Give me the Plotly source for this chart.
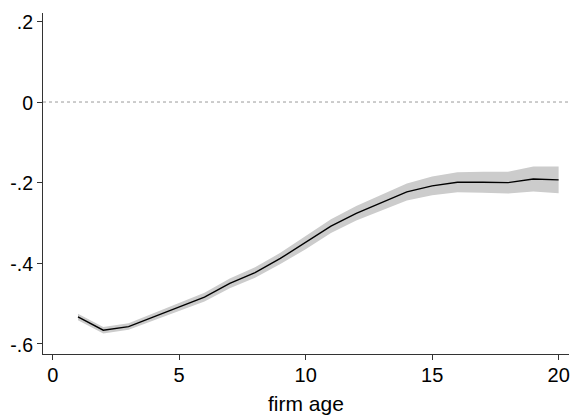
import plotly.graph_objects as go

firm_age = list(range(1, 21))
estimate = [-0.533, -0.566, -0.557, -0.533, -0.508, -0.484, -0.450, -0.423, -0.388, -0.349,
            -0.308, -0.276, -0.250, -0.223, -0.208, -0.199, -0.199, -0.200, -0.191, -0.193]
half_ci = [0.008, 0.008, 0.008, 0.009, 0.010, 0.011, 0.012, 0.013, 0.014, 0.016,
           0.017, 0.018, 0.019, 0.021, 0.023, 0.025, 0.026, 0.027, 0.031, 0.033]
upper = [e + h for e, h in zip(estimate, half_ci)]
lower = [e - h for e, h in zip(estimate, half_ci)]

x_ticks = [0, 5, 10, 15, 20]
y_ticks = [-0.6, -0.4, -0.2, 0, 0.2]
y_tick_labels = ["-.6", "-.4", "-.2", "0", ".2"]

fig = go.Figure()
fig.add_trace(go.Scatter(x=firm_age, y=upper, mode="lines", line=dict(width=0),
                         showlegend=False, hoverinfo="skip"))
fig.add_trace(go.Scatter(x=firm_age, y=lower, mode="lines", line=dict(width=0),
                         fill="tonexty", fillcolor="#cccccc", showlegend=False, hoverinfo="skip"))
fig.add_trace(go.Scatter(x=firm_age, y=estimate, mode="lines",
                         line=dict(color="black", width=1.4), showlegend=False))

fig.add_shape(type="line", xref="paper", yref="y", x0=0, x1=1, y0=0, y1=0,
              line=dict(color="#9a9a9a", width=1, dash="dot"), layer="below")

family = "Liberation Sans, Arial, Helvetica, sans-serif"
fig.add_annotation(text="firm age", xref="paper", yref="paper", x=0.5, y=-0.145,
                   xanchor="center", yanchor="middle", showarrow=False,
                   font=dict(family=family, size=21, color="black"))
fig.update_layout(
    width=574, height=418,
    margin=dict(l=43, r=5, t=13, b=64),
    paper_bgcolor="white", plot_bgcolor="white",
    font=dict(family=family, size=19, color="black"),
    xaxis=dict(range=[-0.383, 20.41], tickvals=x_ticks, ticks="outside", ticklen=5,
               tickcolor="#333333", showline=True, linecolor="#333333", linewidth=1,
               showgrid=False, zeroline=False, automargin=False, ticklabelstandoff=-2,
               tickfont=dict(family=family, size=20, color="black")),
    yaxis=dict(range=[-0.625, 0.2208], tickvals=y_ticks, ticktext=y_tick_labels,
               ticks="outside", ticklen=5, tickcolor="#333333", showline=True,
               linecolor="#333333", linewidth=1, showgrid=False, zeroline=False,
               automargin=False, ticklabelshift=1,
               tickfont=dict(family=family, size=19.5, color="black")),
)
fig.write_html("out.html", config={"displayModeBar": False},
               post_script="document.body.style.margin='0';document.body.style.padding='0';")
